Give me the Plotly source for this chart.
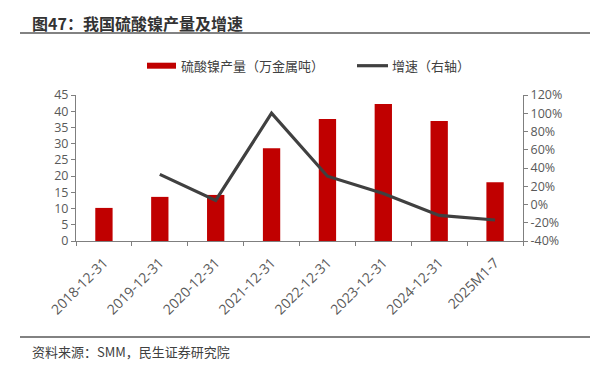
import plotly.graph_objects as go

categories = ["2018-12-31", "2019-12-31", "2020-12-31", "2021-12-31",
              "2022-12-31", "2023-12-31", "2024-12-31", "2025M1-7"]
production = [10.2, 13.6, 14.2, 28.6, 37.6, 42.2, 37.0, 18.1]
growth = [None, 33.0, 4.5, 100.0, 31.0, 12.0, -12.0, -17.0]
left_ticks = [0, 5, 10, 15, 20, 25, 30, 35, 40, 45]
right_ticks = [-40, -20, 0, 20, 40, 60, 80, 100, 120]

OFF = 8  # default page margin around the plot div
W, H = 607 - OFF, 378 - OFF
FONT = "Noto Sans CJK SC"
NUMFONT = "Open Sans"


def px(x):
    return (x - OFF) / W


def py(y):
    return (H - (y - OFF)) / H


fig = go.Figure()
fig.add_trace(go.Bar(
    x=categories, y=production, name="硫酸镍产量（万金属吨）",
    marker=dict(color="#C00000", line=dict(width=0)), width=0.31,
    showlegend=False,
))
fig.add_trace(go.Scatter(
    x=categories, y=growth, name="增速（右轴）", yaxis="y2",
    mode="lines", line=dict(color="#404040", width=3.2),
    showlegend=False,
))

axis_common = dict(showgrid=False, zeroline=False, showline=True,
                   linecolor="#7F7F7F", linewidth=1, ticks="outside",
                   ticklen=4, tickcolor="#7F7F7F", automargin=False)
yfont = dict(family=NUMFONT, size=12.5, color="#595959")

fig.update_layout(
    width=W, height=H,
    margin=dict(l=0, r=0, t=0, b=0),
    plot_bgcolor="white", paper_bgcolor="white",
    font=dict(family=FONT, color="#404040"),
    xaxis=dict(type="category", domain=[px(76), px(523)], tickangle=-45,
               tickson="boundaries", range=[-0.5, 7.5], ticklabelstandoff=7,
               tickfont=dict(family=NUMFONT, size=14, color="#595959"),
               **axis_common),
    yaxis=dict(domain=[py(241), py(95)], range=[0, 45],
               tickvals=left_ticks, tickfont=yfont, **axis_common),
    yaxis2=dict(overlaying="y", side="right", anchor="x", range=[-40, 120],
                tickvals=right_ticks, tickfont=yfont,
                ticktext=[f"{v}%" for v in right_ticks], **axis_common),
    showlegend=False,
)

# custom legend
fig.add_shape(type="rect", xref="paper", yref="paper", x0=px(147), x1=px(176),
              y0=py(68.7), y1=py(62.7), fillcolor="#C00000", line=dict(width=0))
fig.add_annotation(text="硫酸镍产量（万金属吨）", xref="paper", yref="paper",
                   x=px(179), y=py(65.5), xanchor="left", yanchor="middle",
                   showarrow=False, font=dict(family=FONT, size=13, color="#404040"))
fig.add_shape(type="line", xref="paper", yref="paper", x0=px(357), x1=px(388),
              y0=py(65.7), y1=py(65.7), line=dict(color="#404040", width=3.2))
fig.add_annotation(text="增速（右轴）", xref="paper", yref="paper",
                   x=px(390), y=py(65.5), xanchor="left", yanchor="middle",
                   showarrow=False, font=dict(family=FONT, size=13, color="#404040"))

# title and frame
fig.add_annotation(text="<b>图47：我国硫酸镍产量及增速</b>", xref="paper", yref="paper",
                   x=px(30), y=py(23), xanchor="left", yanchor="middle",
                   showarrow=False, font=dict(family=FONT, size=16, color="#333333"))
fig.add_shape(type="line", xref="paper", yref="paper", x0=px(20), x1=px(590),
              y0=py(33), y1=py(33), line=dict(color="#595959", width=1.5))
fig.add_shape(type="line", xref="paper", yref="paper", x0=px(20), x1=px(590),
              y0=py(337), y1=py(337), line=dict(color="#595959", width=1.5))
fig.add_annotation(text="资料来源：SMM，民生证券研究院", xref="paper", yref="paper",
                   x=px(30), y=py(351), xanchor="left", yanchor="middle",
                   showarrow=False, font=dict(family=FONT, size=13, color="#404040"))

fig.write_html("out.html")
